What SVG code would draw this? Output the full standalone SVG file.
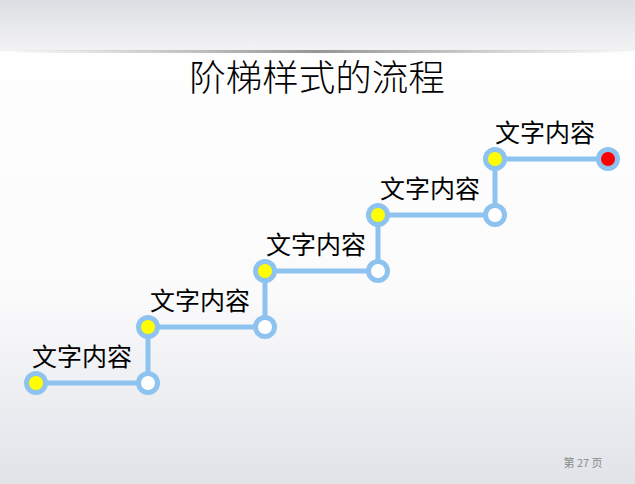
<svg xmlns="http://www.w3.org/2000/svg" width="635" height="484" viewBox="0 0 635 484">
<defs>
<linearGradient id="bg" x1="0" y1="0" x2="0" y2="1">
<stop offset="0" stop-color="#ffffff"/>
<stop offset="0.6" stop-color="#fbfbfc"/>
<stop offset="1" stop-color="#e1e3e9"/>
</linearGradient>
<linearGradient id="hdr" x1="0" y1="0" x2="0" y2="1">
<stop offset="0" stop-color="#dcdee3"/>
<stop offset="1" stop-color="#f3f3f5"/>
</linearGradient>
<linearGradient id="shadow" x1="0" y1="0" x2="1" y2="0">
<stop offset="0" stop-color="#9a9a9a" stop-opacity="0"/>
<stop offset="0.5" stop-color="#8a8a8a" stop-opacity="0.9"/>
<stop offset="1" stop-color="#9a9a9a" stop-opacity="0"/>
</linearGradient>
<style>
.ln{stroke:#8ec3f0;stroke-width:5;fill:none;stroke-linejoin:round}
.nd{stroke:#8ec3f0;stroke-width:5}
.y{fill:#ffff00}
.w{fill:#ffffff}
.r{fill:#ff0000}
.lb{font-family:"Noto Sans CJK SC","Noto Sans",sans-serif;font-size:25px;font-weight:400;fill:#000}
</style>
</defs>
<rect x="0" y="0" width="635" height="484" fill="url(#bg)"/>
<rect x="0" y="0" width="635" height="51" fill="url(#hdr)"/>
<rect x="0" y="50" width="635" height="3" fill="url(#shadow)"/>
<text x="317" y="91" text-anchor="middle" font-family="Noto Sans CJK SC, sans-serif" font-size="36.5" font-weight="300" fill="#000">阶梯样式的流程</text>
<g id="connectors">
<path class="ln" d="M36,383 H148 V327 H265 V271 H378 V215 H495 V159 H608"/>
</g>
<g id="step1"><circle class="nd y" cx="36" cy="383" r="9.5"/><circle class="nd w" cx="148" cy="383" r="9.5"/><text class="lb" x="32" y="366">文字内容</text></g>
<g id="step2"><circle class="nd y" cx="148" cy="327" r="9.5"/><circle class="nd w" cx="265" cy="327" r="9.5"/><text class="lb" x="150" y="310">文字内容</text></g>
<g id="step3"><circle class="nd y" cx="265" cy="271" r="9.5"/><circle class="nd w" cx="378" cy="271" r="9.5"/><text class="lb" x="266" y="254">文字内容</text></g>
<g id="step4"><circle class="nd y" cx="378" cy="215" r="9.5"/><circle class="nd w" cx="495" cy="215" r="9.5"/><text class="lb" x="380" y="198">文字内容</text></g>
<g id="step5"><circle class="nd y" cx="495" cy="159" r="9.5"/><circle class="nd r" cx="608" cy="159" r="9.5"/><text class="lb" x="495" y="142">文字内容</text></g>
<text x="583" y="467" text-anchor="middle" font-family="Noto Sans CJK SC, sans-serif" font-size="11" fill="#8a8a8a">第 27 页</text>
</svg>
